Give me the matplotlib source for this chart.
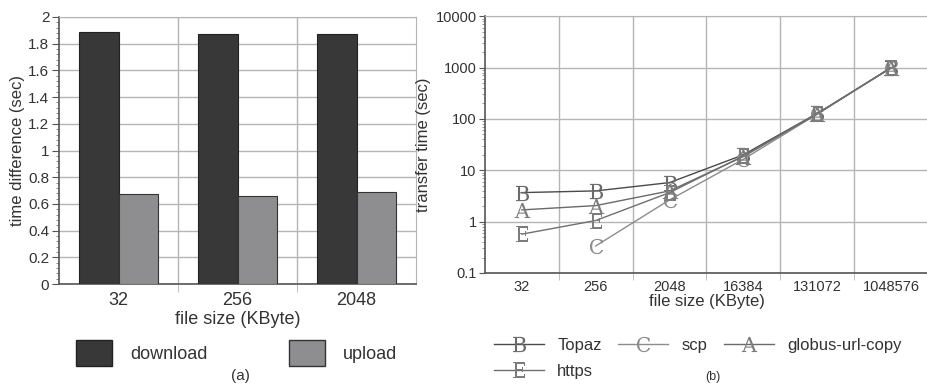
import matplotlib

matplotlib.use("Agg")
import matplotlib.pyplot as plt
import numpy as np
from matplotlib.patches import Patch
from matplotlib.ticker import FixedLocator, FuncFormatter, MultipleLocator, LogLocator

plt.rcParams["font.family"] = ["Liberation Sans", "DejaVu Sans"]
plt.rcParams["mathtext.fontset"] = "dejavuserif"

# (a) bar chart
bar_sizes = ["32", "256", "2048"]
download = [1.89, 1.875, 1.875]
upload = [0.677, 0.659, 0.692]

# (b) transfer time, log scale
line_sizes = ["32", "256", "2048", "16384", "131072", "1048576"]
topaz = [3.67, 3.96, 5.75, 20.0, 128, 980]
scp = [np.nan, 0.336, 2.65, 16.4, 124, 1000]
globus = [1.69, 2.05, 3.96, 18.5, 126, 990]
https = [0.57, 1.05, 3.67, 19.0, 125, 1000]

TXT = "#333333"
GRID = "#b5b5b5"

fig = plt.figure(figsize=(9.28, 3.85), dpi=100)

# ---------------- panel (a) ----------------
ax1 = fig.add_axes([0.0636, 0.262, 0.3847, 0.694])
x = np.arange(len(bar_sizes))
w = 0.335
ax1.bar(x - w / 2, download, w, color="#383838", edgecolor="#222222", linewidth=0.8,
        zorder=3, label="download")
ax1.bar(x + w / 2, upload, w, color="#8e8e90", edgecolor="#333333", linewidth=0.8,
        zorder=3, label="upload")
ax1.set_xlim(-0.5, len(bar_sizes) - 0.5)
ax1.set_ylim(0, 2)
ax1.yaxis.set_major_locator(MultipleLocator(0.2))
ax1.yaxis.set_minor_locator(MultipleLocator(0.04))
ax1.yaxis.set_major_formatter(FuncFormatter(lambda v, p: f"{v:g}"))
ax1.set_xticks(x)
ax1.set_xticklabels(bar_sizes, fontsize=13, color=TXT)
ax1.xaxis.set_minor_locator(FixedLocator(np.arange(0.5, len(bar_sizes) - 0.5, 1)))
ax1.tick_params(axis="x", which="major", length=0, pad=6)
ax1.tick_params(axis="x", which="minor", length=6, color=GRID, direction="out")
ax1.tick_params(axis="y", which="major", length=5, color="#555555", labelsize=11,
                labelcolor=TXT, pad=2)
ax1.tick_params(axis="y", which="minor", length=2.5, color="#777777")
ax1.grid(axis="y", which="major", color=GRID, linewidth=1, zorder=0)
ax1.grid(axis="x", which="minor", color=GRID, linewidth=1, zorder=0)
for s in ["top", "right"]:
    ax1.spines[s].set_color(GRID)
for s in ["left", "bottom"]:
    ax1.spines[s].set_color("#555555")
    ax1.spines[s].set_linewidth(1.2)
ax1.set_ylabel("time difference (sec)", fontsize=12, color=TXT, labelpad=2)
ax1.set_xlabel("file size (KByte)", fontsize=13, color=TXT, labelpad=1)
handles = [Patch(facecolor="#383838", edgecolor="#222222"),
           Patch(facecolor="#8e8e90", edgecolor="#333333")]
fig.legend(handles, ["download", "upload"], loc="center", bbox_to_anchor=(0.255, 0.083),
           ncol=2, frameon=False, fontsize=13, handlelength=2.0, handleheight=1.9,
           columnspacing=4.5, handletextpad=1.0, labelcolor=TXT)
fig.text(0.259, 0.023, "(a)", ha="center", va="center", fontsize=11, color=TXT)

# ---------------- panel (b) ----------------
ax2 = fig.add_axes([0.5226, 0.291, 0.4774, 0.667])
xs = np.arange(len(line_sizes))
series = [
    (topaz, "B", "Topaz", "#4a4a4a", "#6a6a6a"),
    (scp, "C", "scp", "#8c8c8c", "#8c8c8c"),
    (globus, "A", "globus-url-copy", "#6a6a6a", "#7c7c7c"),
    (https, "E", "https", "#6f6f6f", "#7c7c7c"),
]
lines = {}
for vals, letter, name, col, mcol in series:
    (ln,) = ax2.plot(xs, vals, color=col, linewidth=1.0,
                     marker=r"$\mathrm{%s}$" % letter, markersize=11,
                     markeredgewidth=0, markerfacecolor=mcol,
                     zorder=3, label=name)
    lines[name] = ln
ax2.set_yscale("log")
ax2.set_ylim(0.1, 10000)
ax2.set_xlim(-0.5, len(line_sizes) - 0.5)
ax2.yaxis.set_major_locator(LogLocator(base=10, numticks=10))
ax2.yaxis.set_minor_locator(LogLocator(base=10, subs=np.arange(2, 10), numticks=10))
ax2.yaxis.set_major_formatter(FuncFormatter(lambda v, p: f"{v:g}"))
ax2.set_xticks(xs)
ax2.set_xticklabels(line_sizes, fontsize=10.5, color=TXT)
ax2.xaxis.set_minor_locator(FixedLocator(np.arange(0.5, len(line_sizes) - 0.5, 1)))
ax2.tick_params(axis="x", which="major", length=0, pad=5)
ax2.tick_params(axis="x", which="minor", length=5, color=GRID, direction="out")
ax2.tick_params(axis="y", which="major", length=4, color="#555555", labelsize=10.5,
                labelcolor=TXT, pad=2)
ax2.tick_params(axis="y", which="minor", length=2, color="#888888")
ax2.grid(axis="y", which="major", color=GRID, linewidth=1, zorder=0)
ax2.grid(axis="x", which="minor", color=GRID, linewidth=1, zorder=0)
for s in ["top", "right"]:
    ax2.spines[s].set_color(GRID)
for s in ["left", "bottom"]:
    ax2.spines[s].set_color("#555555")
    ax2.spines[s].set_linewidth(1.2)
ax2.set_ylabel("transfer time (sec)", fontsize=12, color=TXT, labelpad=3)
ax2.set_xlabel("file size (KByte)", fontsize=12, color=TXT, labelpad=0)
# legend is filled column by column: put https under Topaz
order = ["Topaz", "https", "scp", "globus-url-copy"]
fig.legend([lines[n] for n in order], order, loc="upper left",
           bbox_to_anchor=(0.525, 0.14), ncol=3, frameon=False, fontsize=12,
           handlelength=3.0, columnspacing=1.0, handletextpad=0.8, labelcolor=TXT,
           borderaxespad=0, labelspacing=0.65)
fig.text(0.768, 0.02, "(b)", ha="center", va="center", fontsize=9, color=TXT)

fig.savefig("out.png", dpi=100)
